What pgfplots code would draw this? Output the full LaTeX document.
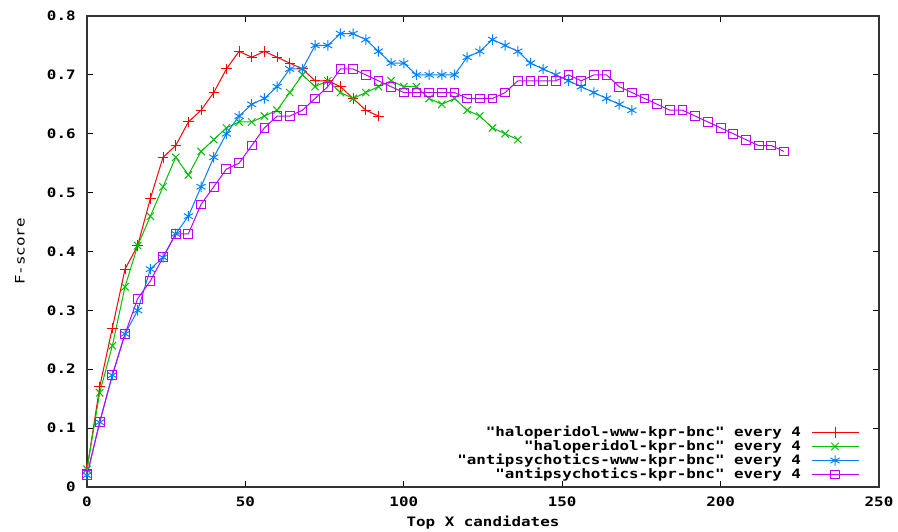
\documentclass[border=0pt]{standalone}
\usepackage{fontspec}
\setmonofont{DejaVu Sans Mono}[FakeStretch=1.22]
\renewcommand{\familydefault}{\ttdefault}
\usepackage{pgfplots}
\pgfplotsset{compat=1.18}
\definecolor{gpred}{RGB}{255,0,0}
\definecolor{gpgreen}{RGB}{0,192,0}
\definecolor{gpblue}{RGB}{0,128,255}
\definecolor{gppurple}{RGB}{192,0,255}
\begin{document}
\begin{tikzpicture}
\path[use as bounding box] (-43.5pt,-22pt) rectangle (405.5pt,243.5pt);
\begin{axis}[
  at={(0,0)}, anchor=south west,
  scale only axis, width=396pt, height=235.5pt,
  xmin=0, xmax=250, ymin=0, ymax=0.8,
  xtick={0,50,100,150,200,250},
  ytick={0,0.1,0.2,0.3,0.4,0.5,0.6,0.7,0.8},
  tick align=inside, major tick length=3pt,
  tick style={black, line width=0.5pt},
  axis line style={line width=0.6pt, black!80},
  /pgf/number format/assume math mode=true,
  yticklabel style={/pgf/number format/fixed, /pgf/number format/precision=1},
  xticklabel style={/pgf/number format/fixed},
  tick label style={font=\ttfamily\bfseries\fontsize{6.5}{7}\selectfont, inner sep=0pt},
  yticklabel style={anchor=east, xshift=-5.5pt},
  xticklabel style={anchor=center, yshift=-7.5pt},
  every axis x label/.style={at={(rel axis cs:0.5,0)}, anchor=center, yshift=-18pt, font=\ttfamily\bfseries\fontsize{6.5}{7}\selectfont},
  every axis y label/.style={at={(rel axis cs:0,0.5)}, xshift=-33.5pt, rotate=90, anchor=center, font=\ttfamily\fontsize{6.5}{7}\selectfont},
  xlabel={Top X candidates},
  ylabel={F-score},
  legend plot pos=right,
  legend cell align=right,
  legend style={draw=none, fill=none, at={(1,0)}, anchor=south east, xshift=-10pt, yshift=3pt,
    inner sep=0pt, outer sep=0pt, font=\ttfamily\bfseries\fontsize{6.5}{7}\selectfont,
    /tikz/column sep=5pt, /tikz/row sep=0.5pt,
    nodes={inner sep=0pt, text height=5pt, text depth=1.5pt}},
  legend image code/.code={\draw[mark repeat=2, mark phase=2, #1] plot coordinates {(0pt,0pt) (11.75pt,0pt) (23.5pt,0pt)};},
  every axis plot/.append style={line width=0.5pt, mark options={solid, line width=0.5pt}},
]
\addplot[gpred, mark=+, mark size=2.6pt] coordinates {
(0,0.03)(4,0.17)(8,0.27)(12,0.37)(16,0.41)(20,0.49)(24,0.56)(28,0.58)(32,0.62)(36,0.64)(40,0.67)(44,0.71)(48,0.74)(52,0.73)(56,0.74)(60,0.73)(64,0.72)(68,0.71)(72,0.69)(76,0.69)(80,0.68)(84,0.66)(88,0.64)(92,0.63)};
\addlegendentry{"haloperidol-www-kpr-bnc" every 4}
\addplot[gpgreen, mark=x, mark size=2.6pt] coordinates {
(0,0.03)(4,0.16)(8,0.24)(12,0.34)(16,0.41)(20,0.46)(24,0.51)(28,0.56)(32,0.53)(36,0.57)(40,0.59)(44,0.61)(48,0.62)(52,0.62)(56,0.63)(60,0.64)(64,0.67)(68,0.70)(72,0.68)(76,0.69)(80,0.67)(84,0.66)(88,0.67)(92,0.68)(96,0.69)(100,0.68)(104,0.68)(108,0.66)(112,0.65)(116,0.66)(120,0.64)(124,0.63)(128,0.61)(132,0.60)(136,0.59)};
\addlegendentry{"haloperidol-kpr-bnc" every 4}
\addplot[gpblue, mark=asterisk, mark size=2.6pt] coordinates {
(0,0.02)(4,0.11)(8,0.19)(12,0.26)(16,0.30)(20,0.37)(24,0.39)(28,0.43)(32,0.46)(36,0.51)(40,0.56)(44,0.60)(48,0.63)(52,0.65)(56,0.66)(60,0.68)(64,0.71)(68,0.71)(72,0.75)(76,0.75)(80,0.77)(84,0.77)(88,0.76)(92,0.74)(96,0.72)(100,0.72)(104,0.70)(108,0.70)(112,0.70)(116,0.70)(120,0.73)(124,0.74)(128,0.76)(132,0.75)(136,0.74)(140,0.72)(144,0.71)(148,0.70)(152,0.69)(156,0.68)(160,0.67)(164,0.66)(168,0.65)(172,0.64)};
\addlegendentry{"antipsychotics-www-kpr-bnc" every 4}
\addplot[gppurple, mark=square, mark size=2.2pt] coordinates {
(0,0.02)(4,0.11)(8,0.19)(12,0.26)(16,0.32)(20,0.35)(24,0.39)(28,0.43)(32,0.43)(36,0.48)(40,0.51)(44,0.54)(48,0.55)(52,0.58)(56,0.61)(60,0.63)(64,0.63)(68,0.64)(72,0.66)(76,0.68)(80,0.71)(84,0.71)(88,0.70)(92,0.69)(96,0.68)(100,0.67)(104,0.67)(108,0.67)(112,0.67)(116,0.67)(120,0.66)(124,0.66)(128,0.66)(132,0.67)(136,0.69)(140,0.69)(144,0.69)(148,0.69)(152,0.70)(156,0.69)(160,0.70)(164,0.70)(168,0.68)(172,0.67)(176,0.66)(180,0.65)(184,0.64)(188,0.64)(192,0.63)(196,0.62)(200,0.61)(204,0.60)(208,0.59)(212,0.58)(216,0.58)(220,0.57)};
\addlegendentry{"antipsychotics-kpr-bnc" every 4}
\end{axis}
\end{tikzpicture}
\end{document}
